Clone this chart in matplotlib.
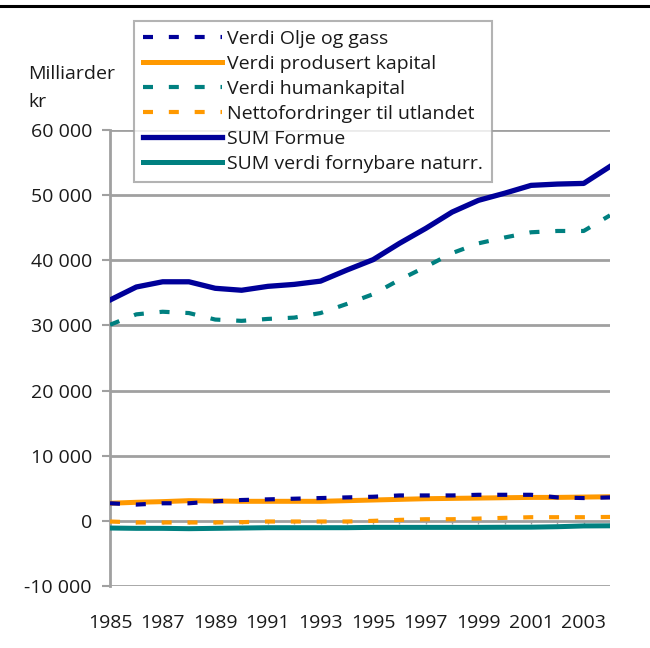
import matplotlib
matplotlib.use('agg')
import matplotlib.pyplot as plt
from matplotlib.lines import Line2D
from matplotlib.ticker import FuncFormatter
import numpy as np

plt.rcParams['font.family'] = ['Open Sans', 'DejaVu Sans']

years = list(range(1985, 2005))

olje_gass = [2700, 2500, 2700, 2700, 3000, 3200, 3300, 3400, 3500, 3600,
             3700, 3900, 3900, 3900, 4000, 4000, 4000, 3600, 3500, 3600]
produsert = [2700, 2850, 2950, 3100, 3050, 3000, 3000, 3000, 3000, 3100,
             3200, 3300, 3400, 3450, 3500, 3550, 3600, 3600, 3650, 3700]
humankapital = [30100, 31700, 32100, 31900, 30900, 30700, 31000, 31200, 31900, 33300,
                34800, 37000, 39000, 41100, 42600, 43500, 44300, 44500, 44500, 46900]
netto = [-100, -250, -250, -250, -250, -200, -100, -100, -100, -100,
         0, 150, 250, 250, 350, 460, 560, 560, 560, 600]
sum_formue = [33900, 35900, 36700, 36700, 35700, 35400, 36000, 36300, 36800, 38500,
              40100, 42600, 44900, 47400, 49200, 50300, 51500, 51700, 51800, 54400]
fornybare = [-1100, -1150, -1150, -1200, -1150, -1100, -1050, -1050, -1050, -1050,
             -1000, -1000, -1000, -1000, -1000, -980, -970, -900, -780, -760]

labels = ['Verdi Olje og gass', 'Verdi produsert kapital', 'Verdi humankapital',
          'Nettofordringer til utlandet', 'SUM Formue', 'SUM verdi fornybare naturr.']

navy = '#000099'
orange = '#ff9900'
teal = '#008080'
grid_grey = '#a0a0a0'
text_col = '#1a1a1a'

fig = plt.figure(figsize=(6.5, 6.48), dpi=100)
ax = fig.add_axes([110 / 650, 62 / 648, 500 / 650, 456 / 648])

dash = (2.4, 3.8)
ax.plot(years, olje_gass, color=navy, lw=3, dashes=dash, label=labels[0], zorder=4)
ax.plot(years, produsert, color=orange, lw=3.6, label=labels[1], zorder=3)
ax.plot(years, humankapital, color=teal, lw=3, dashes=dash, label=labels[2], zorder=3)
ax.plot(years, netto, color=orange, lw=3, dashes=dash, label=labels[3], zorder=3)
ax.plot(years, sum_formue, color=navy, lw=3.8, label=labels[4], zorder=3)
ax.plot(years, fornybare, color=teal, lw=3.6, label=labels[5], zorder=3)

ax.set_xlim(1985, 2004)
ax.set_ylim(-10000, 60000)
ax.set_yticks(np.arange(-10000, 60001, 10000))
ax.yaxis.set_major_formatter(FuncFormatter(lambda v, p: f'{int(v):,}'.replace(',', ' ')))
ax.set_xticks(years[::2])
ax.set_xticklabels([str(y) for y in years[::2]])

ax.grid(axis='y', color=grid_grey, lw=2)
ax.set_axisbelow(True)
for s in ['top', 'right', 'bottom']:
    ax.spines[s].set_visible(False)
ax.spines['left'].set_color(grid_grey)
ax.spines['left'].set_linewidth(2)
ax.tick_params(axis='y', length=6, width=1.5, color=grid_grey, labelsize=14, pad=7, labelcolor=text_col)
ax.tick_params(axis='x', length=0, labelsize=14, pad=20, labelcolor=text_col)

# small category ticks on the zero axis
ax.vlines(years, -500, 0, color=grid_grey, lw=1, zorder=2)

leg = ax.legend(loc='upper left', bbox_to_anchor=(134 / 650, 1 - 21 / 648),
                bbox_transform=fig.transFigure, fontsize=14, frameon=True,
                fancybox=False, borderpad=0.45, labelspacing=0.36,
                handlelength=4.1, handletextpad=0.25, borderaxespad=0,
                labelcolor=text_col)
leg.get_frame().set_edgecolor(grid_grey)
leg.get_frame().set_linewidth(1.5)
leg.set_zorder(10)

fig.text(28 / 650, 1 - 74 / 648, 'Milliarder', fontsize=14, va='center', ha='left', color=text_col)
fig.text(28 / 650, 1 - 102 / 648, 'kr', fontsize=14, va='center', ha='left', color=text_col)

fig.add_artist(Line2D([0, 1], [1 - 6 / 648, 1 - 6 / 648], color='black', lw=2.2,
                      transform=fig.transFigure))

fig.savefig('out.png', dpi=100)
